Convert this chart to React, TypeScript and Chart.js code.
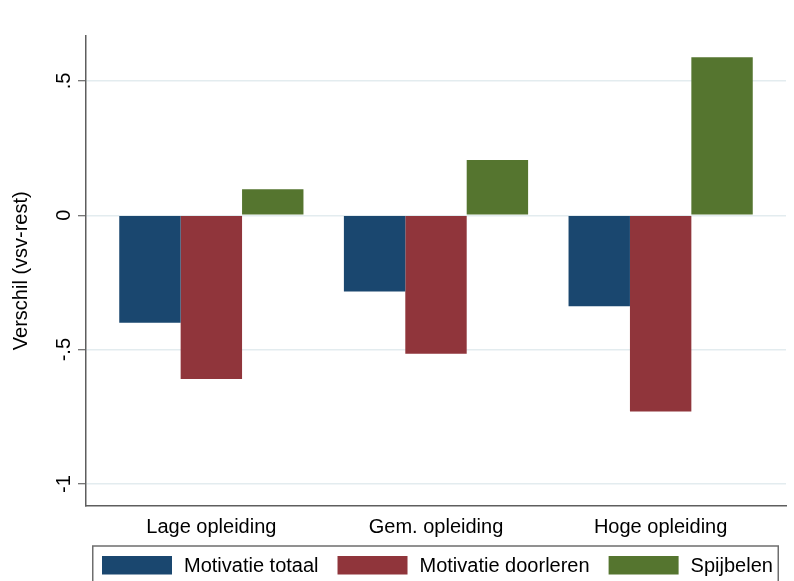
import React, { useEffect, useRef } from "react";
import { Chart, registerables } from "chart.js";

Chart.register(...registerables);

const categories = ["Lage opleiding", "Gem. opleiding", "Hoge opleiding"];
const seriesNames = ["Motivatie totaal", "Motivatie doorleren", "Spijbelen"];
const motivatieTotaal = [-0.4, -0.284, -0.339];
const motivatieDoorleren = [-0.609, -0.515, -0.73];
const spijbelen = [0.097, 0.206, 0.588];
const seriesColors = ["#1a476f", "#90353b", "#55752f"];
const yTickValues = [-1, -0.5, 0, 0.5];
const yTickLabels = ["-1", "-.5", "0", ".5"];
const yTitle = "Verschil (vsv-rest)";

const FONT = '20px "Liberation Sans", Arial, sans-serif';

const stataPlugin = {
  id: "stataDecor",
  afterDraw(chart: any) {
    const ctx = chart.ctx as CanvasRenderingContext2D;
    const area = chart.chartArea;
    const xs = chart.scales.x;
    const ys = chart.scales.y;
    ctx.save();
    ctx.fillStyle = "#000";
    ctx.font = FONT;

    // y tick labels (rotated)
    ctx.textAlign = "center";
    ctx.textBaseline = "alphabetic";
    yTickValues.forEach((v, i) => {
      const py = ys.getPixelForValue(v);
      ctx.save();
      ctx.translate(area.left - 16.5, py);
      ctx.rotate(-Math.PI / 2);
      ctx.fillText(yTickLabels[i], 0, 0);
      ctx.restore();
    });

    // y title
    ctx.save();
    ctx.translate(area.left - 59, (area.top + area.bottom) / 2);
    ctx.rotate(-Math.PI / 2);
    ctx.fillText(yTitle, 0, 0);
    ctx.restore();

    // x category labels
    categories.forEach((c, i) => {
      const px = xs.getPixelForValue(i);
      ctx.fillText(c, px, area.bottom + 27.5);
    });

    // legend box
    const boxTop = area.bottom + 40.5;
    ctx.strokeStyle = "#6e6e6e";
    ctx.lineWidth = 1.5;
    ctx.strokeRect(92.75, boxTop, 685.5, 80);

    let lx = 102;
    const swW = 70;
    const swTop = boxTop + 10;
    const swH = 18.5;
    ctx.textAlign = "left";
    seriesNames.forEach((name, i) => {
      ctx.fillStyle = seriesColors[i];
      ctx.fillRect(lx, swTop, swW, swH);
      lx += swW + 12;
      ctx.fillStyle = "#000";
      ctx.fillText(name, lx, boxTop + 26);
      lx += ctx.measureText(name).width + 19;
    });
    ctx.restore();
  },
};

export default function App() {
  const canvasRef = useRef<HTMLCanvasElement | null>(null);

  useEffect(() => {
    const seriesValues = [motivatieTotaal, motivatieDoorleren, spijbelen];
    const chart = new Chart(canvasRef.current as HTMLCanvasElement, {
      type: "bar",
      data: {
        datasets: seriesValues.map((vals, s) => ({
          label: seriesNames[s],
          data: vals.map((v, i) => ({ x: i, y: v })),
          backgroundColor: seriesColors[s],
          borderWidth: 0,
          categoryPercentage: 0.82,
          barPercentage: 1,
        })),
      },
      options: {
        animation: false,
        responsive: false,
        maintainAspectRatio: false,
        layout: { padding: { left: 78, right: 8, top: 36, bottom: 75.5 } },
        plugins: {
          legend: { display: false },
          tooltip: { enabled: false },
        },
        scales: {
          x: {
            type: "linear",
            min: -0.558,
            max: 2.558,
            offset: false,
            afterBuildTicks: (scale: any) => {
              scale.ticks = categories.map((_, i) => ({ value: i }));
            },
            ticks: { display: false },
            grid: { display: false, drawTicks: false, offset: false },
            border: { display: true, color: "#5e5e5e", width: 1.5 },
          },
          y: {
            type: "linear",
            min: -1.08,
            max: 0.667,
            afterBuildTicks: (scale: any) => {
              scale.ticks = yTickValues.map((v) => ({ value: v }));
            },
            ticks: { display: false },
            grid: {
              color: "#e3ecef",
              lineWidth: 1.5,
              drawTicks: true,
              tickLength: 8,
              tickColor: "#4a4a4a",
              tickWidth: 1,
            },
            border: { display: true, color: "#5e5e5e", width: 1.5 },
          },
        },
      },
      plugins: [stataPlugin],
    });
    return () => chart.destroy();
  }, []);

  return (
    <div style={{ position: "absolute", left: 0, top: 0, width: 794, height: 581, background: "#fff" }}>
      <canvas ref={canvasRef} width={794} height={581} />
    </div>
  );
}
